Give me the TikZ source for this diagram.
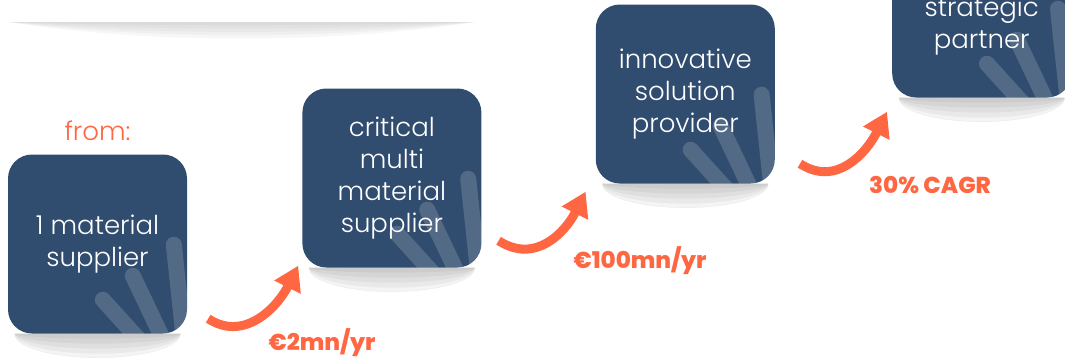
\documentclass[tikz,border=0pt]{standalone}
\usepackage{fontspec}
\setmainfont{Poppins}[UprightFont=* Light, BoldFont=* ExtraBold]
\usepackage{tikz}
\usetikzlibrary{positioning,arrows.meta,backgrounds,calc}
\definecolor{stageblue}{RGB}{48,76,110}
\definecolor{groworange}{RGB}{255,102,66}
\newcommand{\stagefont}{\fontsize{26}{32}\selectfont}
\newcommand{\gainfont}{\fontsize{23}{28}\selectfont\bfseries}
\tikzset{
  stage/.style    ={rectangle, rounded corners=24pt, fill=stageblue, minimum width=179pt,
                    minimum height=179pt, inner sep=0pt, text=white, align=center, font=\stagefont},
  stagetext/.style={text=white, align=center, font=\stagefont},
  fromtext/.style ={text=groworange, font=\stagefont},
  stripe/.style   ={line width=16pt, line cap=round, white, opacity=0.17},
  growth/.style   ={-{Triangle[width=28pt,length=24pt]}, line width=9pt, draw=groworange},
  gain/.style     ={text=groworange, font=\gainfont},
  haze/.style     ={fill=black, opacity=0.045},
}
% soft floor shadow under a box, darker close to the box
\newcommand{\floorshadow}[1]{%
  \draw[black!6] ($(#1.south)+(83,0)$) arc[start angle=0, end angle=180, x radius=83, y radius=24];
  \foreach \r in {5,10,15,20,24}
    \fill[haze] ($(#1.south)+(83,0)$) arc[start angle=0, end angle=180, x radius=83, y radius=\r] -- cycle;}
% pale fan strokes in the lower right of a box
\newcommand{\fingers}[1]{%
  \begin{scope}
    \clip[rounded corners=24pt] (#1.south west) rectangle (#1.north east);
    \foreach \fx/\fy in {95/-34,125/-58,166/-89}
      \draw[stripe] ($(#1.south west)+(\fx,\fy)$) -- ($(#1.south west)+(182,62)$);
  \end{scope}}

\begin{document}
\begin{tikzpicture}[x=1pt,y=-1pt]
\useasboundingbox (0,0) rectangle (1065,357);
\clip (0,0) rectangle (1065,357);

\node[stage] (s1) at (97.5,244) {1 material\\supplier};
\node[stage, right=115pt of s1, yshift=66pt] (s2) {critical\\multi\\material\\supplier};
\node[stage, right=114pt of s2, yshift=84pt] (s3) {innovative\\solution\\provider};
\node[stage, right=117pt of s3, yshift=86pt] (s4) {};
\node[stagetext] (s4t) at ([yshift=-18pt]s4.center) {strategic\\partner};
\node[fromtext, above=10pt of s1] (from) {from:};
\foreach \s in {s1,s2,s3,s4} \fingers{\s};

\begin{scope}[on background layer]
  \foreach \s in {s1,s2,s3,s4} \floorshadow{\s};
  % shadow of the panel above the top edge
  \foreach \d in {4,8,12,16,20}
    \fill[haze, opacity=0.03] (8,22) -- (475,22)
      .. controls (330,22+1.1*\d) and (150,22+1.1*\d) .. (8,22) -- cycle;
\end{scope}

% growth steps
\coordinate (t1) at ($(s1.south east)+(21,-15)$);
\coordinate (h1) at ($(s2.south west)+(-4,-2)$);
\coordinate (t2) at ($(s2.south east)+(17,-27)$);
\coordinate (h2) at ($(s3.south west)+(-10,8)$);
\coordinate (t3) at ($(s3.south east)+(25,-20)$);
\coordinate (h3) at ($(s4.south west)+(-5,14)$);
\foreach \i in {1,2,3}
  \draw[growth] (t\i) .. controls +(37,24) and +(-20,40) .. (h\i);

\node[gain] (g1) at (322,343) {€2mn/yr};
\node[gain] (g2) at (640,261) {€100mn/yr};
\node[gain] (g3) at (930,185) {30\% CAGR};
\end{tikzpicture}
\end{document}
